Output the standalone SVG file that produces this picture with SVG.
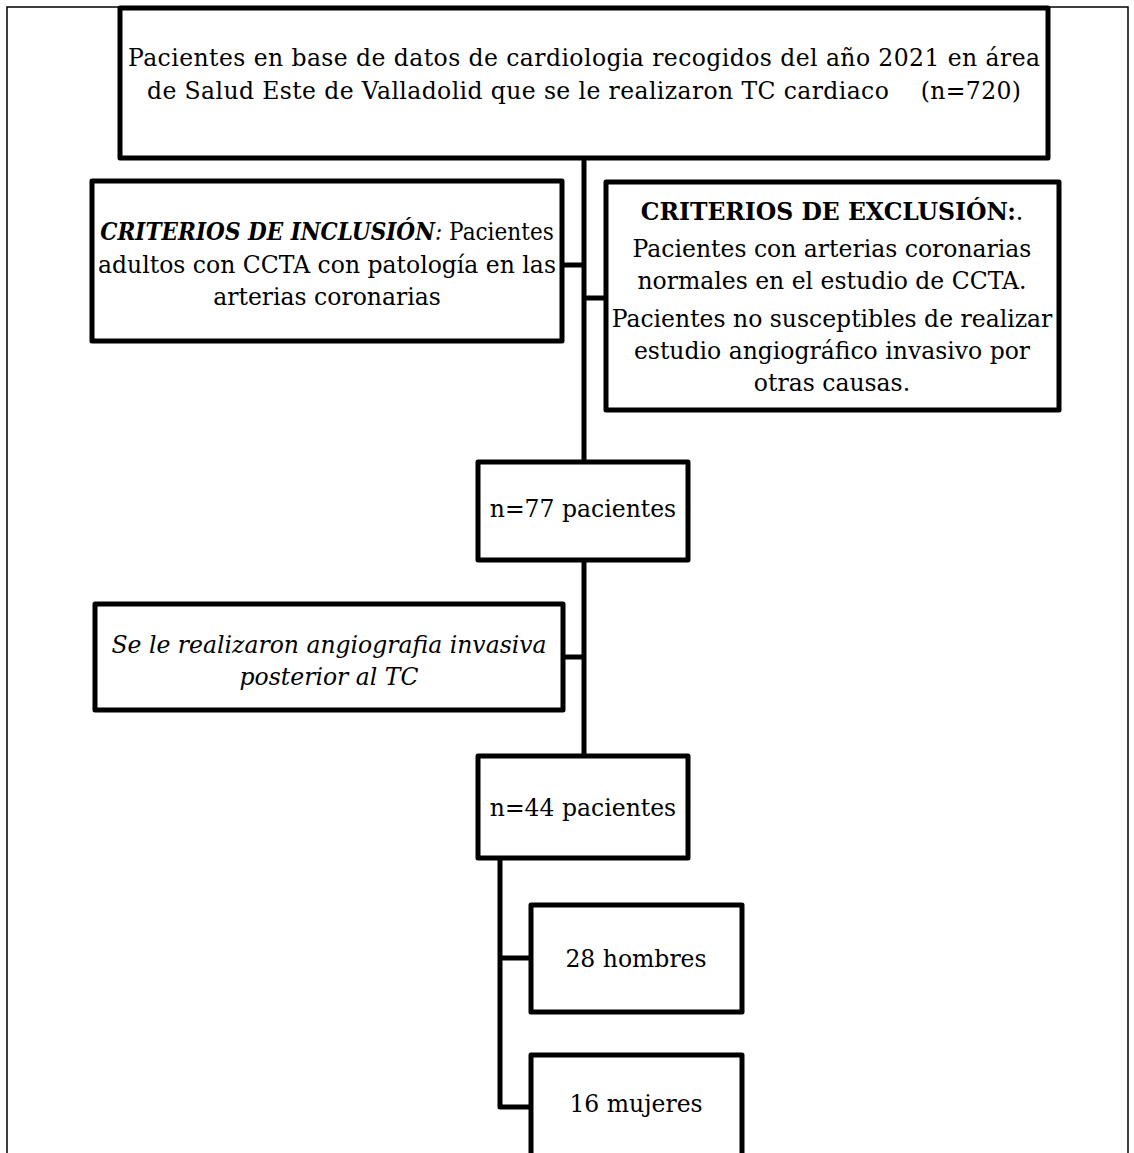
<svg xmlns="http://www.w3.org/2000/svg" width="1134" height="1153" viewBox="0 0 1134 1153">
<style>
.box{fill:#fff;stroke:#000;stroke-width:5;stroke-linejoin:round}
.con{fill:none;stroke:#000;stroke-width:5;stroke-linejoin:round}
.page{fill:none;stroke:#000;stroke-width:1.5}
text{font-family:"DejaVu Serif","Liberation Serif",serif;font-size:23.5px;fill:#000;text-anchor:middle}
.b{font-weight:bold}
.i{font-style:italic}
</style>
<rect width="1134" height="1153" fill="#fff"/>
<path class="page" d="M7 1153 V7 H1128 V1153"/>
<g id="connectors">
<path class="con" d="M584 158 V462"/>
<path class="con" d="M584 560 V756"/>
<path class="con" d="M562 265 H584"/>
<path class="con" d="M584 298 H606"/>
<path class="con" d="M563 657 H584"/>
<path class="con" d="M500 858 V1107 H531"/>
<path class="con" d="M500 958 H531"/>
</g>
<g id="node-top">
<rect class="box" x="120" y="8" width="928" height="150"/>
<text x="584" y="66" textLength="912">Pacientes en base de datos de cardiologia recogidos del año 2021 en área</text>
<text x="584" y="99" textLength="874" xml:space="preserve">de Salud Este de Valladolid que se le realizaron TC cardiaco    (n=720)</text>
</g>
<g id="node-inclusion">
<rect class="box" x="92" y="181" width="470" height="160"/>
<text transform="translate(327 240) scale(0.92 1)" x="0" y="0"><tspan class="b i">CRITERIOS DE INCLUSIÓN</tspan><tspan class="i">:</tspan> Pacientes</text>
<text x="327" y="273">adultos con CCTA con patología en las</text>
<text x="327" y="305">arterias coronarias</text>
</g>
<g id="node-exclusion">
<rect class="box" x="606" y="182" width="453" height="228"/>
<text x="832" y="220"><tspan class="b">CRITERIOS DE EXCLUSIÓN:</tspan>.</text>
<text x="832" y="257">Pacientes con arterias coronarias</text>
<text x="832" y="289">normales en el estudio de CCTA.</text>
<text x="832" y="327">Pacientes no susceptibles de realizar</text>
<text x="832" y="359">estudio angiográfico invasivo por</text>
<text x="832" y="391">otras causas.</text>
</g>
<g id="node-n77">
<rect class="box" x="478" y="462" width="210" height="98"/>
<text x="583" y="517">n=77 pacientes</text>
</g>
<g id="node-angio">
<rect class="box" x="95" y="604" width="468" height="106"/>
<text class="i" x="329" y="653">Se le realizaron angiografia invasiva</text>
<text class="i" x="329" y="685">posterior al TC</text>
</g>
<g id="node-n44">
<rect class="box" x="478" y="756" width="210" height="102"/>
<text x="583" y="816">n=44 pacientes</text>
</g>
<g id="node-hombres">
<rect class="box" x="531" y="905" width="211" height="107"/>
<text x="636" y="967">28 hombres</text>
</g>
<g id="node-mujeres">
<rect class="box" x="531" y="1055" width="211" height="120"/>
<text x="636" y="1112">16 mujeres</text>
</g>
</svg>
